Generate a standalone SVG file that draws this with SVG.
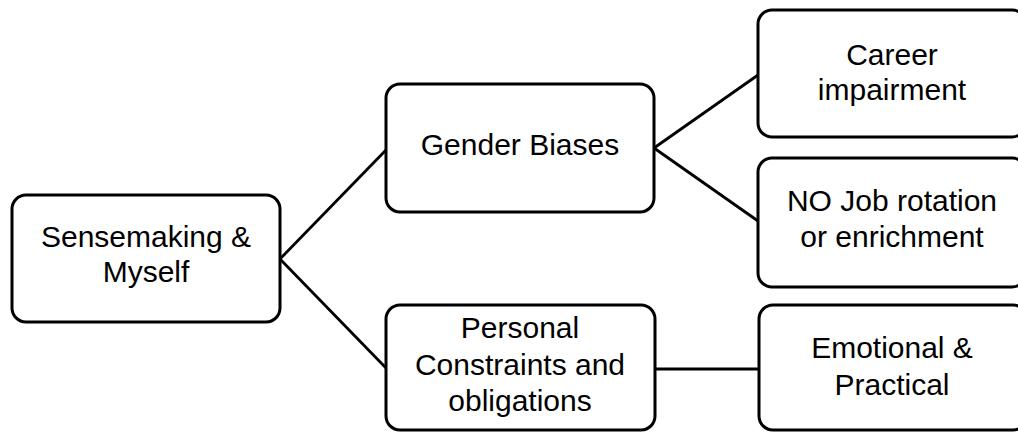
<svg xmlns="http://www.w3.org/2000/svg" width="1018" height="432" viewBox="0 0 1018 432">
<style>
.box{fill:#fff;stroke:#000;stroke-width:3}
.lbl{font-family:"Liberation Sans",Arial,sans-serif;font-size:30px;fill:#000;text-anchor:middle}
.edge{stroke:#000;stroke-width:2.8;fill:none}
</style>
<rect width="1018" height="432" fill="#fff"/>
<g id="connectors">
<line class="edge" x1="280" y1="259" x2="386" y2="150"/>
<line class="edge" x1="280" y1="259" x2="386" y2="368"/>
<line class="edge" x1="654" y1="148" x2="758" y2="75"/>
<line class="edge" x1="654" y1="148" x2="758" y2="221"/>
<line class="edge" x1="655" y1="369" x2="759" y2="369"/>
</g>
<g id="n-sensemaking">
<rect class="box" x="12" y="195" width="268" height="127" rx="14"/>
<text class="lbl" x="146" y="247">Sensemaking &amp;</text>
<text class="lbl" x="146" y="282">Myself</text>
</g>
<g id="n-gender">
<rect class="box" x="386" y="84" width="268" height="128" rx="14"/>
<text class="lbl" x="520" y="155">Gender Biases</text>
</g>
<g id="n-personal">
<rect class="box" x="386" y="305" width="269" height="125" rx="14"/>
<text class="lbl" x="520" y="338">Personal</text>
<text class="lbl" x="520" y="375">Constraints and</text>
<text class="lbl" x="520" y="411">obligations</text>
</g>
<g id="n-career">
<rect class="box" x="758" y="10" width="268" height="127" rx="14"/>
<text class="lbl" x="892" y="65">Career</text>
<text class="lbl" x="892" y="100">impairment</text>
</g>
<g id="n-nojob">
<rect class="box" x="758" y="158" width="268" height="129" rx="14"/>
<text class="lbl" x="892" y="211">NO Job rotation</text>
<text class="lbl" x="892" y="247">or enrichment</text>
</g>
<g id="n-emotional">
<rect class="box" x="759" y="305" width="268" height="125" rx="14"/>
<text class="lbl" x="892" y="358">Emotional &amp;</text>
<text class="lbl" x="892" y="395">Practical</text>
</g>
</svg>
